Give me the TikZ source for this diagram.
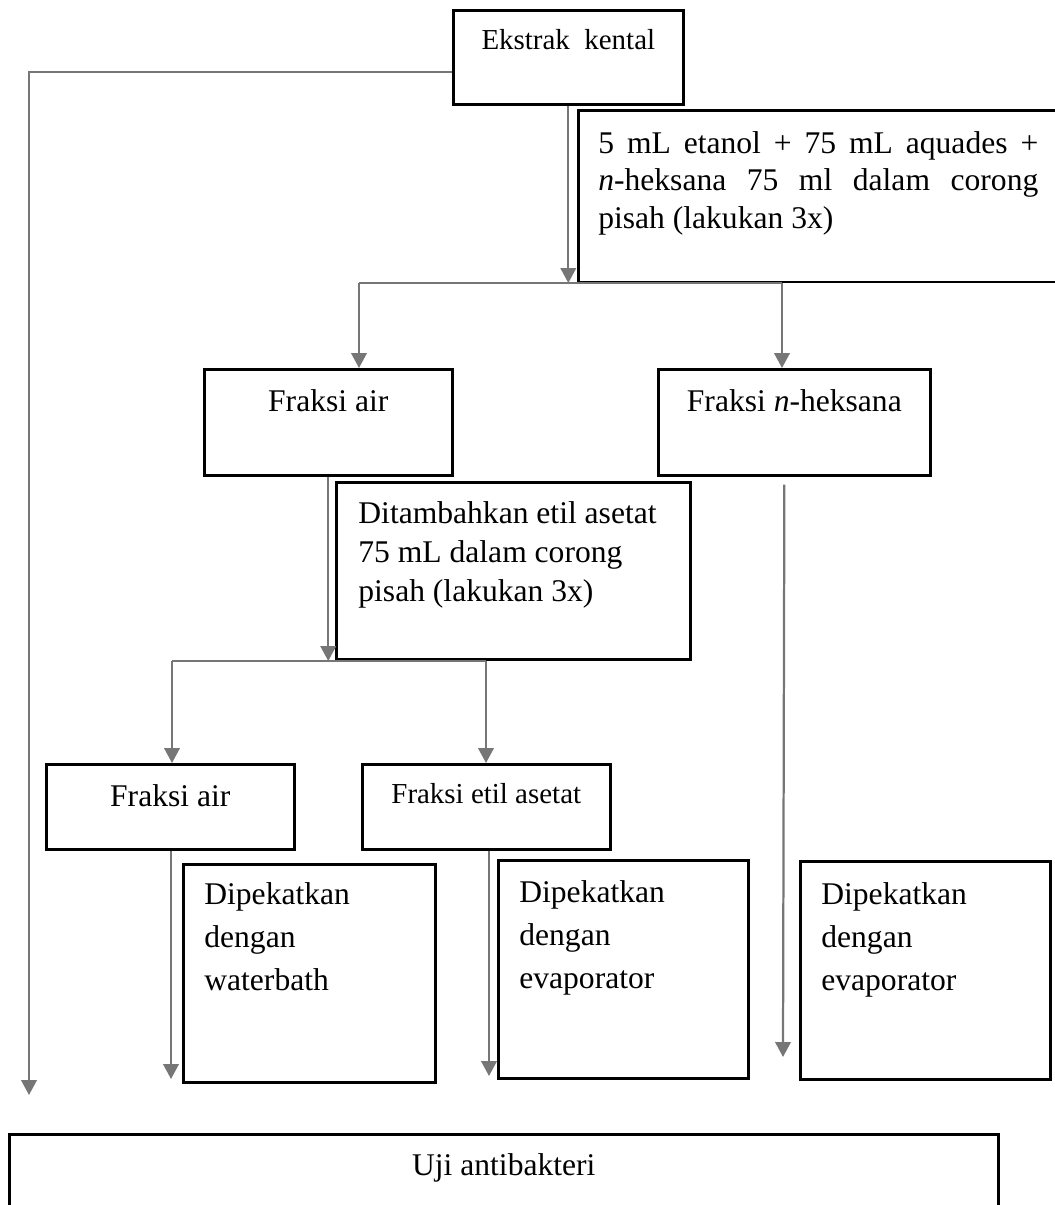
\documentclass[tikz,border=0pt]{standalone}
\usepackage{fontspec}
\setmainfont{Liberation Serif}
\usetikzlibrary{arrows.meta}
\definecolor{linegray}{RGB}{118,118,118}

\begin{document}
\begin{tikzpicture}[x=0.38pt,y=-0.38pt,
  box/.style={draw,line width=1pt,anchor=north west,inner xsep=0pt,inner ysep=0pt,
    font=\fontsize{12}{14.3}\selectfont},
  textbox/.style={box,align=flush left,inner xsep=8pt},
  arr/.style={linegray,line width=0.85pt,-{Triangle[length=5.7pt,width=5.9pt]}},
  link/.style={linegray,line width=0.85pt}]
  \useasboundingbox (0,0) rectangle (1055,1205);

  \node[box,minimum width=87.4pt,text height=14.8pt,text depth=20.9pt,
    font=\fontsize{11}{13}\selectfont] (ek) at (452,9) {Ekstrak\ \ kental};
  \node[textbox,align=justify,text width=167.2pt,inner xsep=7.6pt,
    text height=16.3pt,text depth=49pt] (campur) at (577,109)
    {5 mL etanol + 75 mL aquades +\linebreak \textit{n}-heksana 75 ml dalam corong\linebreak pisah (lakukan 3x)};

  \node[box,minimum width=94.2pt,text height=16pt,text depth=24.3pt] (fair) at (203,368) {Fraksi air};
  \node[box,minimum width=103.4pt,text height=16pt,text depth=24.3pt] (fheks) at (657,368) {Fraksi \textit{n}-heksana};

  \node[textbox,text width=117.8pt,inner xsep=8.4pt,text height=15.6pt,text depth=51.7pt,
    font=\fontsize{12}{14.8}\selectfont] (etil) at (335,481)
    {Ditambahkan etil asetat\\ 75 mL dalam corong\\ pisah (lakukan 3x)};

  \node[box,minimum width=94.2pt,text height=16pt,text depth=16.3pt] (fair2) at (45,763) {Fraksi air};
  \node[box,minimum width=94.2pt,text height=14.8pt,text depth=17.5pt,
    font=\fontsize{11}{13}\selectfont] (fetil) at (361,763) {Fraksi etil asetat};

  \node[textbox,text width=79.8pt,text height=15.2pt,text depth=67.6pt,
    font=\fontsize{12}{16.3}\selectfont] (pkt1) at (182,863) {Dipekatkan\\ dengan\\ waterbath};
  \node[textbox,text width=79pt,text height=16pt,text depth=66.9pt,
    font=\fontsize{12}{16.3}\selectfont] (pkt2) at (497,859) {Dipekatkan\\ dengan\\ evaporator};
  \node[textbox,text width=79pt,text height=16.3pt,text depth=66.5pt,
    font=\fontsize{12}{16.3}\selectfont] (pkt3) at (799,860) {Dipekatkan\\ dengan\\ evaporator};

  \node[box,minimum width=375.8pt,text height=15.6pt,text depth=15.6pt] (uji) at (8,1133) {Uji antibakteri};

  \coordinate (s1) at (359,283);
  \coordinate (s2) at (782,283);
  \coordinate (s3) at (172,661);
  \coordinate (s4) at (486,661);
  \coordinate (tip0) at (29,1095);
  \coordinate (tip1) at (171,1079);
  \coordinate (tip2) at (489,1076);
  \coordinate (tip3) at (783,1057);

  \draw[arr] ([shift={(0,15)}]ek.west) -| (tip0);
  \draw[arr] (ek.south) -- (ek.south |- s1);
  \draw[link] (s1) -- (s2);
  \draw[arr] (s1) -- (s1 |- fair.north);
  \draw[arr] (s2) -- (s2 |- fheks.north);

  \draw[arr] (fair.south) -- (fair.south |- s3);
  \draw[link] (s3) -- (s4);
  \draw[arr] (s3) -- (s3 |- fair2.north);
  \draw[arr] (s4) -- (s4 |- fetil.north);

  \draw[arr] (fair2.south -| tip1) -- (tip1);
  \draw[arr] (fetil.south -| tip2) -- (tip2);
  \draw[arr] ([shift={(-10,8)}]fheks.south) -- (tip3);
\end{tikzpicture}
\end{document}
